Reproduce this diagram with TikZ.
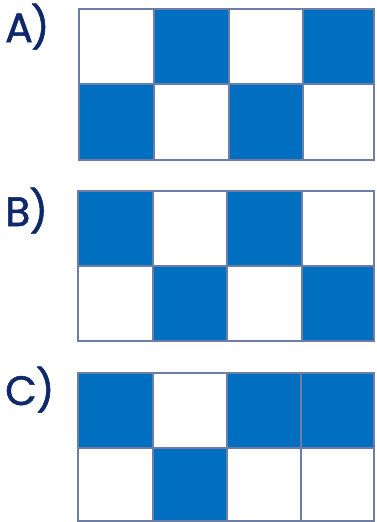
\documentclass[tikz,border=0pt]{standalone}
\usepackage{fontspec}
\setmainfont{Poppins}
\newfontfamily\labelfont{Poppins}[FakeBold=1.3]
\definecolor{cellblue}{RGB}{0,111,192}
\definecolor{gridline}{RGB}{110,125,165}
\definecolor{labelnavy}{RGB}{15,40,105}
\tikzset{
  bluecell/.style={fill=cellblue},
  cellframe/.style={draw=gridline, line width=1.2pt},
  optlabel/.style={anchor=base west, inner sep=0pt, text=labelnavy, font=\labelfont\fontsize{41}{41}\selectfont}
}
\begin{document}
\begin{tikzpicture}[x=1pt,y=-1pt]
\useasboundingbox (0,0) rectangle (376,522);
% labels
\node[optlabel] (la) at (5,42) {A\kern-2pt)};
\node[optlabel] (lb) at (5,226) {B\kern-1pt)};
\node[optlabel] (lc) at (5,405) {C\kern-1pt)};
% Grid A
\fill[bluecell] (154,9) rectangle (229,84);
\fill[bluecell] (303,9) rectangle (374,84);
\fill[bluecell] (79,84) rectangle (154,160);
\fill[bluecell] (229,84) rectangle (303,160);
\draw[cellframe] (79,9) rectangle (374,160);
\draw[cellframe] (79,84) -- (374,84);
\foreach \x in {154,229,303} \draw[cellframe] (\x,9) -- (\x,160);
% Grid B
\fill[bluecell] (78,191) rectangle (153,266);
\fill[bluecell] (227,191) rectangle (302,266);
\fill[bluecell] (153,266) rectangle (227,341);
\fill[bluecell] (302,266) rectangle (374,341);
\draw[cellframe] (78,191) rectangle (374,341);
\draw[cellframe] (78,266) -- (374,266);
\foreach \x in {153,227,302} \draw[cellframe] (\x,191) -- (\x,341);
% Grid C
\fill[bluecell] (78,373) rectangle (153,448);
\fill[bluecell] (227,373) rectangle (374,448);
\fill[bluecell] (153,448) rectangle (227,521);
\draw[cellframe] (78,373) rectangle (374,521);
\draw[cellframe] (78,448) -- (374,448);
\foreach \x in {153,227,301} \draw[cellframe] (\x,373) -- (\x,521);
\end{tikzpicture}
\end{document}
